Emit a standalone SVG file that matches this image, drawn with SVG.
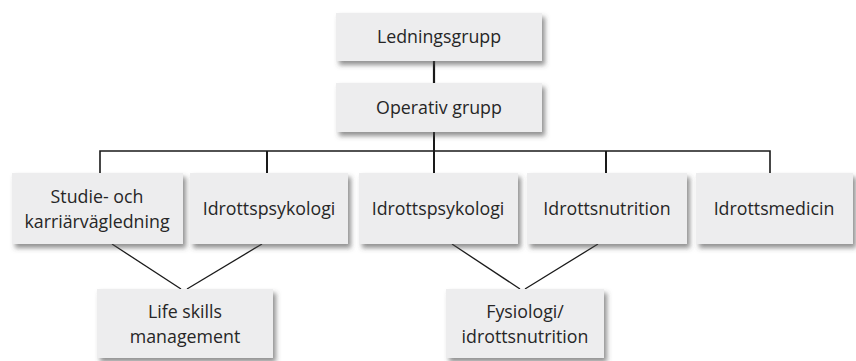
<svg xmlns="http://www.w3.org/2000/svg" width="856" height="361" viewBox="0 0 856 361">
<style>
.box{fill:#ededee;filter:url(#sh)}
.t{font-family:"Open Sans","Liberation Sans",sans-serif;font-size:17.8px;fill:#262626;text-anchor:middle}
.c{stroke:#1a1a1a;stroke-width:1.6;fill:none}
</style>
<defs>
<filter id="sh" x="-10%" y="-20%" width="125%" height="150%">
<feDropShadow dx="3" dy="4" stdDeviation="2.5" flood-color="#4a4a4a" flood-opacity="0.6"/>
</filter>
</defs>
<rect width="856" height="361" fill="#ffffff"/>
<g id="connectors">
<line class="c" x1="434" y1="61" x2="434" y2="83" style="stroke-width:2.2"/>
<line class="c" x1="434" y1="132" x2="434" y2="173" style="stroke-width:2"/>
<polyline class="c" points="100,173 100,151 770,151 770,173"/>
<line class="c" x1="267" y1="151" x2="267" y2="173" style="stroke-width:2"/>
<line class="c" x1="606" y1="151" x2="606" y2="173" style="stroke-width:2"/>
<line class="c" x1="112" y1="244" x2="181" y2="289" style="stroke-width:1.3"/>
<line class="c" x1="262" y1="244" x2="187" y2="289" style="stroke-width:1.3"/>
<line class="c" x1="452" y1="244" x2="520" y2="289" style="stroke-width:1.3"/>
<line class="c" x1="598" y1="244" x2="525" y2="289" style="stroke-width:1.3"/>
</g>
<g id="ledningsgrupp"><rect class="box" x="336" y="13" width="206" height="48"/><text class="t" x="439" y="43">Ledningsgrupp</text></g>
<g id="operativ"><rect class="box" x="336" y="83" width="206" height="49"/><text class="t" x="439" y="114">Operativ grupp</text></g>
<g id="studie"><rect class="box" x="12" y="173" width="171" height="71"/><text class="t" x="97" y="203">Studie- och</text><text class="t" x="97" y="228">karriärvägledning</text></g>
<g id="psyk1"><rect class="box" x="190" y="173" width="158" height="71"/><text class="t" x="269" y="215">Idrottspsykologi</text></g>
<g id="psyk2"><rect class="box" x="359" y="173" width="159" height="71"/><text class="t" x="438" y="215">Idrottspsykologi</text></g>
<g id="nutrition"><rect class="box" x="527" y="173" width="160" height="71"/><text class="t" x="607" y="215">Idrottsnutrition</text></g>
<g id="medicin"><rect class="box" x="696" y="173" width="157" height="71"/><text class="t" x="774" y="215">Idrottsmedicin</text></g>
<g id="lifeskills"><rect class="box" x="97" y="289" width="176" height="69"/><text class="t" x="185" y="318">Life skills</text><text class="t" x="185" y="343">management</text></g>
<g id="fysiologi"><rect class="box" x="446" y="289" width="158" height="69"/><text class="t" x="525" y="318">Fysiologi/</text><text class="t" x="525" y="343">idrottsnutrition</text></g>
</svg>
